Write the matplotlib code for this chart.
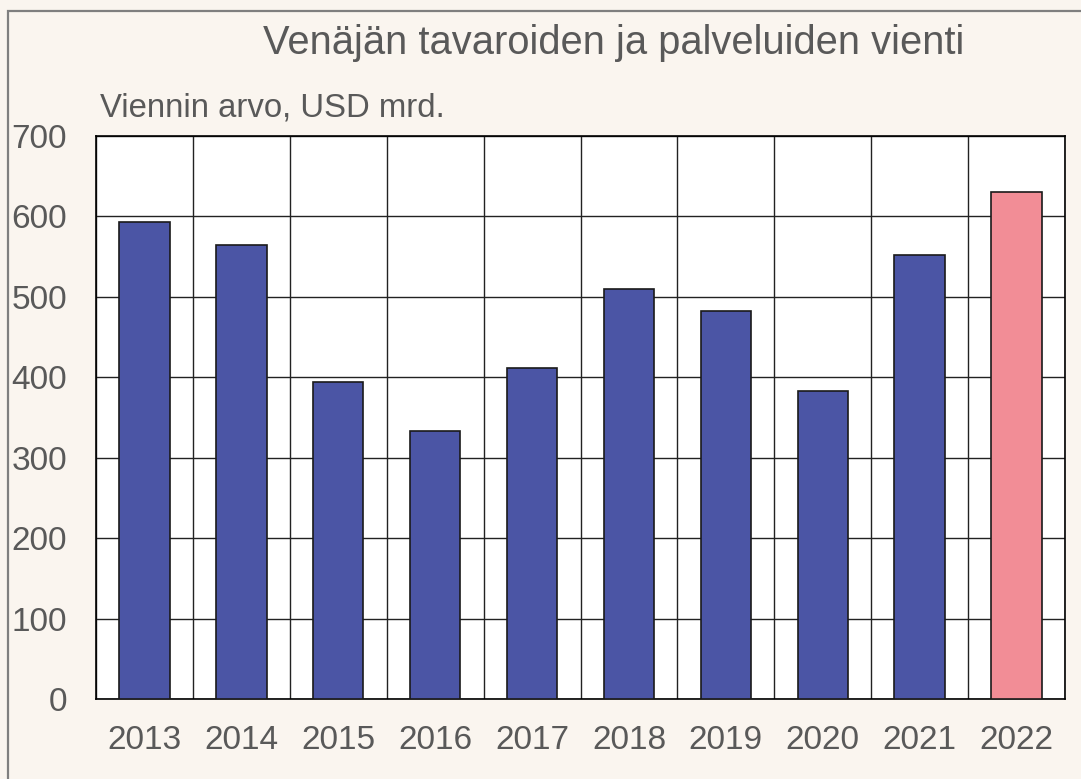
#Venajan vienti - bar chart
import matplotlib
matplotlib.use('Agg')
import matplotlib.pyplot as plt
from matplotlib.patches import Rectangle
import numpy as np

#data
years = ['2013', '2014', '2015', '2016', '2017', '2018', '2019', '2020', '2021', '2022']
values = [593, 564, 394, 333, 411, 510, 483, 383, 552, 630]
bar_colors = ['#4B55A5'] * 9 + ['#F28D96']
yticks = [0, 100, 200, 300, 400, 500, 600, 700]

#style
plt.rcParams['font.family'] = ['Liberation Sans', 'DejaVu Sans']
txt = '#595959'
bg = '#FAF5EF'

fig = plt.figure(figsize=[10.81, 7.79], dpi=100, facecolor=bg)
#frame around the figure (only top and left visible)
fig.patches.append(Rectangle((8/1081, -0.1), 1.2, 1 - 11/779 + 0.1, transform=fig.transFigure,
                             fill=False, edgecolor='#7F7F7F', lw=1.6))

ax = fig.add_axes([96/1081, 1 - 699/779, (1065 - 96)/1081, (699 - 136)/779])
ax.set_facecolor('white')
x = np.arange(len(years))
ax.bar(x, values, width=0.52, color=bar_colors, edgecolor='#1a1a1a', lw=1.2, zorder=3)

ax.set_xlim(-0.5, len(years) - 0.5)
ax.set_ylim(0, 700)
ax.set_yticks(yticks)
ax.set_xticks(x)
ax.set_xticklabels(years)
#vertical grid between categories
ax.set_xticks(np.arange(len(years) + 1) - 0.5, minor=True)
ax.grid(axis='x', which='minor', color='#222222', lw=1, zorder=1)
ax.grid(axis='y', which='major', color='#222222', lw=1, zorder=1)
ax.tick_params(axis='both', which='both', length=0, labelsize=24, labelcolor=txt)
ax.tick_params(axis='x', pad=19)
ax.tick_params(axis='y', pad=21)
for sp in ax.spines.values():
  sp.set_color('black')
  sp.set_linewidth(1.2)

#texts
fig.text(614/1081, 1 - 43/779, 'Venäjän tavaroiden ja palveluiden vienti', ha='center', va='center',
         fontsize=28.7, color=txt)
fig.text(100/1081, 1 - 108/779, 'Viennin arvo, USD mrd.', ha='left', va='center',
         fontsize=23.7, color=txt)

plt.savefig('out.png', dpi=100, facecolor=bg)
